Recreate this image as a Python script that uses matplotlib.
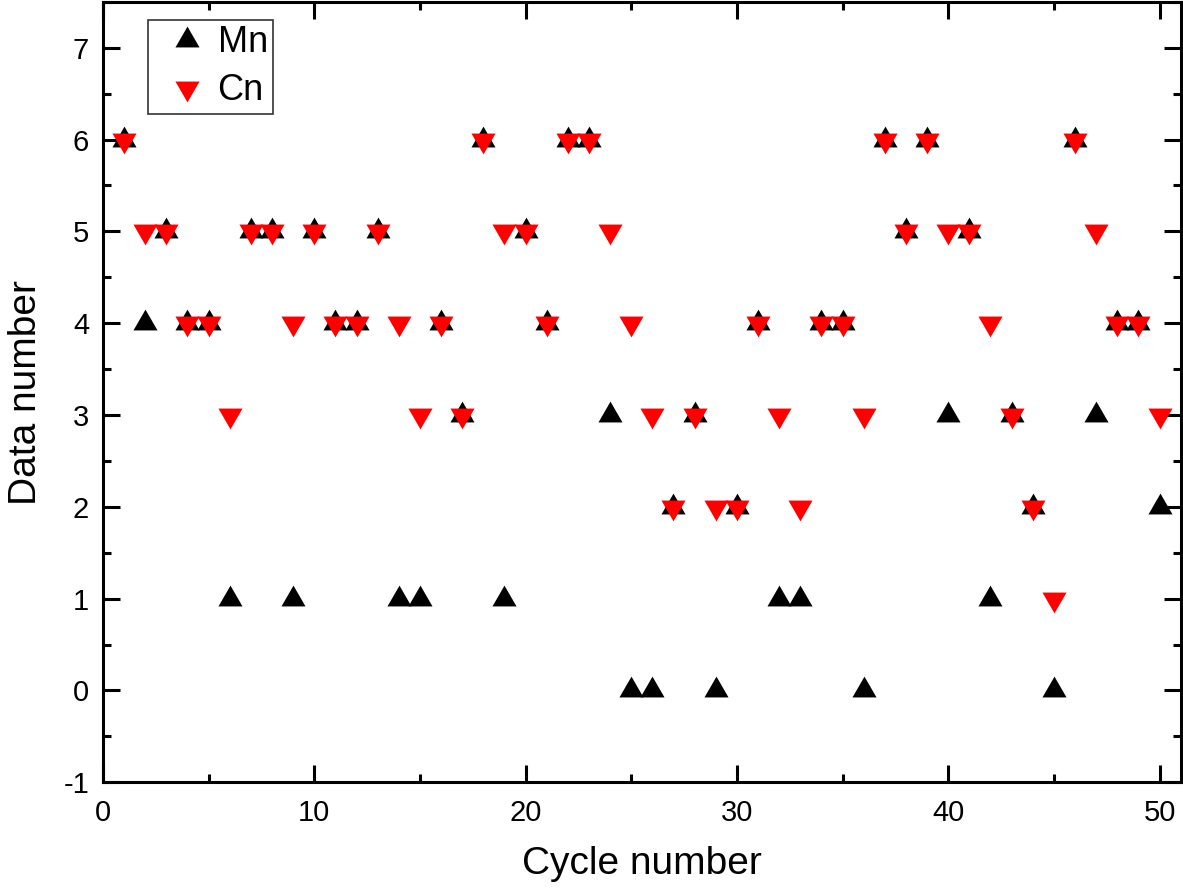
import numpy as np
import matplotlib.pyplot as plt
from matplotlib.ticker import MultipleLocator

plt.rcParams['font.family'] = ['Liberation Sans', 'DejaVu Sans']
plt.rcParams['axes.unicode_minus'] = False

# data
cycle = list(range(1, 51))
mn = [6, 4, 5, 4, 4, 1, 5, 5, 1, 5,
      4, 4, 5, 1, 1, 4, 3, 6, 1, 5,
      4, 6, 6, 3, 0, 0, 2, 3, 0, 2,
      4, 1, 1, 4, 4, 0, 6, 5, 6, 3,
      5, 1, 3, 2, 0, 6, 3, 4, 4, 2]
cn = [6, 5, 5, 4, 4, 3, 5, 5, 4, 5,
      4, 4, 5, 4, 3, 4, 3, 6, 5, 5,
      4, 6, 6, 5, 4, 3, 2, 3, 2, 2,
      4, 3, 2, 4, 4, 3, 6, 5, 6, 5,
      5, 4, 3, 2, 1, 6, 5, 4, 4, 3]

# equilateral triangles centred on their centroid (so overlaps give a star)
tri_up = [(0, 1), (-0.866, -0.5), (0.866, -0.5), (0, 1)]
tri_down = [(0, -1), (-0.866, 0.5), (0.866, 0.5), (0, -1)]

fig = plt.figure(figsize=(11.83, 8.88), dpi=100)
ax = fig.add_axes([0.087, 0.119, 0.911, 0.879])

ax.plot(cycle, mn, ls='none', marker=tri_up, ms=20, color='black', mew=0, label='Mn')
ax.plot(cycle, cn, ls='none', marker=tri_down, ms=20, color='red', mew=0, label='Cn')

ax.set_xlim(0, 51)
ax.set_ylim(-1, 7.5)
ax.xaxis.set_major_locator(MultipleLocator(10))
ax.xaxis.set_minor_locator(MultipleLocator(5))
ax.yaxis.set_major_locator(MultipleLocator(1))
ax.yaxis.set_minor_locator(MultipleLocator(0.5))
ax.tick_params(which='both', direction='in', top=True, right=True, width=2.2, labelsize=21)
ax.tick_params(axis='x', pad=12)
ax.tick_params(axis='y', pad=10)
ax.tick_params(which='major', length=12)
ax.tick_params(which='minor', length=6)
for s in ax.spines.values():
    s.set_linewidth(2.2)

ax.set_xlabel('Cycle number', fontsize=28, labelpad=14)
ax.set_ylabel('Data number', fontsize=28, labelpad=14)

leg = ax.legend(loc='upper left', bbox_to_anchor=(0.042, 0.977), fontsize=26,
                frameon=True, fancybox=False, edgecolor='black', handlelength=1.87,
                handletextpad=-0.1, borderpad=0.15, labelspacing=0.36, borderaxespad=0)
leg.get_frame().set_linewidth(1.2)

fig.savefig('out.png', dpi=100)
